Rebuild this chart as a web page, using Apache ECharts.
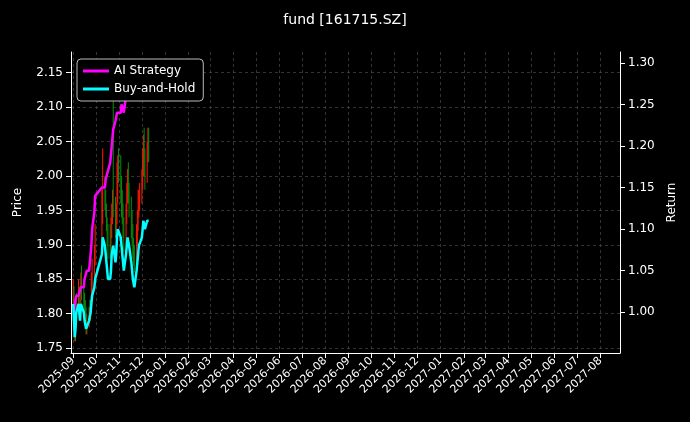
<!DOCTYPE html><html><head><meta charset="utf-8">
<script src="https://cdn.jsdelivr.net/npm/echarts@6/dist/echarts.min.js"></script>
<style>html,body{margin:0;background:#000}#c{width:690px;height:422px}</style></head><body><div id="c"></div>
<script>
const tradingDays = (function(){const r=[];const holidays=['2025-10-01','2025-10-02','2025-10-03','2025-10-06','2025-10-07','2025-10-08'];
 for(let t=Date.UTC(2025,8,1);t<=Date.UTC(2025,11,10);t+=864e5){const d=new Date(t);const w=d.getUTCDay();const s=d.toISOString().slice(0,10);if(w>0&&w<6&&holidays.indexOf(s)<0)r.push(s);}return r;})();
const closes=[1.83,1.80,1.77,1.79,1.82,1.83,1.81,1.80,1.84,1.83,1.82,1.81,1.80,1.78,1.79,1.80,1.80,1.81,1.84,1.86,1.88,1.90,
1.95,1.98,1.97,1.95,1.93,1.91,1.90,1.90,1.92,1.94,1.95,1.96,1.93,1.94,1.98,2.00,2.01,
1.98,1.96,1.95,1.93,1.91,1.94,1.97,1.99,1.98,1.96,1.93,1.92,1.90,1.89,1.88,1.91,1.93,1.95,1.96,1.97,
1.99,2.01,2.03,2.02,2.00,2.03,2.05,2.04];
const opens=[1.81,1.83,1.80,1.77,1.80,1.82,1.83,1.81,1.81,1.84,1.83,1.82,1.81,1.80,1.78,1.79,1.81,1.80,1.81,1.84,1.86,1.88,
1.92,1.95,1.99,1.97,1.95,1.93,1.91,1.91,1.90,1.92,1.94,1.97,1.96,1.93,1.94,1.98,2.02,
2.01,1.99,1.96,1.95,1.93,1.91,1.94,1.97,2.00,1.98,1.96,1.93,1.92,1.90,1.89,1.88,1.91,1.93,1.95,1.96,
1.97,1.99,2.01,2.04,2.02,2.00,2.03,2.06];
const highs=[1.85,1.84,1.81,1.80,1.83,1.85,1.84,1.82,1.86,1.87,1.84,1.83,1.82,1.81,1.80,1.81,1.82,1.82,1.86,1.88,1.90,1.93,
1.98,2.04,2.00,1.98,1.96,1.94,1.93,1.93,1.94,1.96,1.98,2.11,1.97,1.96,2.02,2.03,2.04,
2.03,2.00,1.98,1.96,1.94,1.96,1.99,2.01,2.02,1.99,1.97,1.95,1.93,1.91,1.90,1.93,1.95,1.98,1.98,1.99,
2.01,2.04,2.06,2.07,2.04,2.05,2.07,2.07];
const lows=[1.79,1.79,1.76,1.76,1.78,1.81,1.80,1.79,1.80,1.82,1.81,1.80,1.79,1.77,1.77,1.78,1.79,1.79,1.80,1.83,1.85,1.87,
1.90,1.93,1.95,1.94,1.92,1.90,1.88,1.88,1.89,1.91,1.93,1.94,1.91,1.92,1.93,1.96,1.99,
1.96,1.94,1.93,1.91,1.89,1.90,1.93,1.96,1.96,1.94,1.91,1.90,1.88,1.87,1.86,1.87,1.90,1.92,1.94,1.95,
1.96,1.98,2.00,2.00,1.98,1.99,2.02,2.02];
const strategy=[1.01,1.00,1.01,1.01,1.02,1.02,1.02,1.02,1.03,1.03,1.03,1.04,1.04,1.04,1.05,1.05,1.06,1.07,1.08,1.10,1.12,1.14,
1.15,1.15,1.15,1.16,1.16,1.16,1.17,1.18,1.19,1.20,1.21,1.22,1.23,1.23,1.24,1.24,1.24,
1.24,1.25,1.25,1.25,1.24,1.26,1.27,1.27,1.28,1.28,1.28,1.285,1.29,1.29,1.29,1.29,1.295,1.295,1.295,1.30,
1.30,1.30,1.30,1.30,1.30,1.30,1.30,1.30];
const buyHold=[1.01,0.99,0.97,0.98,1.00,1.01,1.00,0.99,1.01,1.01,1.00,0.99,0.99,0.98,0.98,0.99,0.99,1.00,1.01,1.02,1.03,1.04,
1.07,1.09,1.08,1.07,1.06,1.05,1.04,1.04,1.05,1.07,1.07,1.08,1.06,1.07,1.09,1.10,1.10,
1.09,1.08,1.07,1.06,1.05,1.07,1.08,1.09,1.09,1.08,1.06,1.05,1.04,1.04,1.03,1.05,1.06,1.07,1.08,1.08,
1.09,1.10,1.11,1.11,1.10,1.11,1.11,1.11];
const priceTicks=[1.75,1.80,1.85,1.90,1.95,2.00,2.05,2.10,2.15];
const returnTicks=[1.00,1.05,1.10,1.15,1.20,1.25,1.30];
const xStart='2025-08-29', xEnd='2027-08-27';
const days=[];for(let t=Date.parse(xStart+'T00:00:00Z');t<=Date.parse(xEnd+'T00:00:00Z');t+=864e5)days.push(new Date(t).toISOString().slice(0,10));
const idx={};tradingDays.forEach((d,i)=>idx[d]=i);
const candle=days.map(d=>idx[d]!==undefined?[opens[idx[d]],closes[idx[d]],lows[idx[d]],highs[idx[d]]]:'-');
const sLine=days.map(d=>idx[d]!==undefined?strategy[idx[d]]:'-');
const bLine=days.map(d=>idx[d]!==undefined?buyHold[idx[d]]:'-');
const isFirst=(i,v)=>v.slice(8)==='01';
const txt={color:'#fff',fontSize:12,fontFamily:'DejaVu Sans'};
const gridLine={lineStyle:{color:'#555',type:[3,3],width:0.6}};
const ch=echarts.init(document.getElementById('c'));
ch.setOption({backgroundColor:'#000',animation:false,
title:{text:'fund [161715.SZ]',left:'center',top:8,textStyle:{color:'#fff',fontSize:14,fontWeight:'normal',fontFamily:'DejaVu Sans'}},
grid:{left:71,right:70,top:52,bottom:69},
legend:{orient:'vertical',left:77,top:59,backgroundColor:'#000',borderColor:'#bbb',borderWidth:1,borderRadius:4,padding:[6,8,6,6],itemGap:6,itemWidth:26,itemHeight:3,
 textStyle:{color:'#fff',fontSize:12,fontFamily:'DejaVu Sans'},data:[{name:'AI Strategy',icon:'rect'},{name:'Buy-and-Hold',icon:'rect'}]},
xAxis:{type:'category',data:days,boundaryGap:false,axisLine:{lineStyle:{color:'#fff'}},
 axisTick:{interval:isFirst,lineStyle:{color:'#fff'}},
 axisLabel:Object.assign({interval:isFirst,rotate:45,formatter:v=>v.slice(0,7),margin:6},txt,{fontSize:11}),
 splitLine:Object.assign({show:true,interval:isFirst},gridLine)},
yAxis:[{type:'value',min:1.743,max:2.18,name:'Price',nameLocation:'middle',nameGap:47,nameTextStyle:txt,
 axisLine:{show:true,lineStyle:{color:'#fff'}},axisTick:{show:true,customValues:priceTicks},axisLabel:Object.assign({customValues:priceTicks,formatter:v=>v.toFixed(2)},txt),splitLine:Object.assign({show:true},gridLine)},
 {type:'value',min:0.951,max:1.313,name:'Return',nameLocation:'middle',nameGap:44,nameTextStyle:txt,
 axisLine:{show:true,lineStyle:{color:'#fff'}},axisTick:{show:true,customValues:returnTicks},axisLabel:Object.assign({customValues:returnTicks,formatter:v=>v.toFixed(2)},txt),splitLine:{show:false}}],
series:[{type:'candlestick',data:candle,barWidth:3,itemStyle:{color:'#ff1a00',color0:'#0a8a0a',borderColor:'#ff1a00',borderColor0:'#0a8a0a',borderWidth:1}},
 {name:'AI Strategy',type:'line',yAxisIndex:1,data:sLine,connectNulls:true,showSymbol:false,lineStyle:{color:'#ff00ff',width:2.5},itemStyle:{color:'#ff00ff'}},
 {name:'Buy-and-Hold',type:'line',yAxisIndex:1,data:bLine,connectNulls:true,showSymbol:false,lineStyle:{color:'#00ffff',width:2.5},itemStyle:{color:'#00ffff'}}]
});
</script></body></html>
